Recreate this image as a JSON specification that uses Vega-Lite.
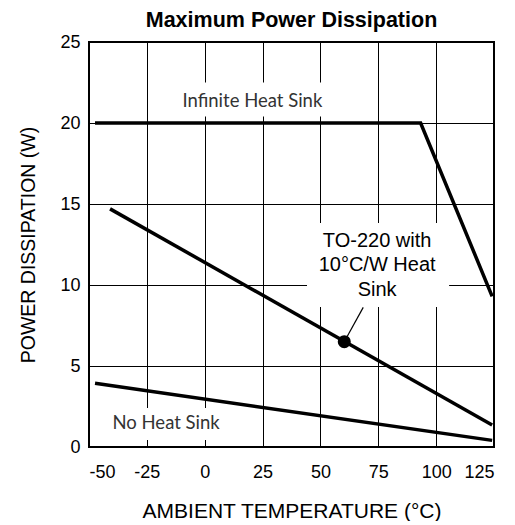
{
  "$schema": "https://vega.github.io/schema/vega-lite/v6.json",
  "autosize": {"type": "pad"},
  "width": 405,
  "height": 405,
  "padding": {"left": 18, "top": 9, "right": 0, "bottom": 0},
  "background": "white",
  "title": {
    "text": "Maximum Power Dissipation",
    "font": "Liberation Sans",
    "fontSize": 21.5,
    "fontWeight": "bold",
    "color": "black",
    "frame": "group",
    "baseline": "alphabetic",
    "offset": -15
  },
  "config": {
    "view": {"stroke": "black", "strokeWidth": 2},
    "axis": {
      "labelFont": "Liberation Sans",
      "labelFontSize": 18,
      "labelColor": "black",
      "titleFont": "Liberation Sans",
      "titleFontWeight": "normal",
      "titleColor": "black",
      "grid": true,
      "gridColor": "black",
      "gridOpacity": 1,
      "gridWidth": 1,
      "ticks": false,
      "domain": false,
      "labelExpr": "replace(datum.label, '−', '-')"
    }
  },
  "datasets": {
    "curves": [
      {"series": "Infinite Heat Sink", "temp": -47.4, "power": 20.0},
      {"series": "Infinite Heat Sink", "temp": 93.3, "power": 20.0},
      {"series": "Infinite Heat Sink", "temp": 124.2, "power": 9.3},
      {"series": "TO-220 10C/W", "temp": -40.9, "power": 14.7},
      {"series": "TO-220 10C/W", "temp": 124.2, "power": 1.36},
      {"series": "No Heat Sink", "temp": -47.4, "power": 3.93},
      {"series": "No Heat Sink", "temp": 124.2, "power": 0.41}
    ],
    "boxes": [
      {"x1": -12.8, "x2": 56.3, "y1": 20.4, "y2": 22.5},
      {"x1": 44.2, "x2": 105.6, "y1": 8.64, "y2": 13.83},
      {"x1": -43.1, "x2": 13.1, "y1": 0.43, "y2": 2.41}
    ],
    "leader": [
      {"x1": 60.3, "y1": 6.5, "x2": 68.5, "y2": 8.62}
    ],
    "dot": [
      {"temp": 60.3, "power": 6.5}
    ],
    "labels": [
      {"temp": 20.6, "power": 21.36, "label": "Infinite Heat Sink"},
      {"temp": -16.7, "power": 1.46, "label": "No Heat Sink"}
    ],
    "note": [
      {"temp": 74.5, "power": 12.73, "label": ["TO-220 with", "10°C/W Heat", "Sink"]}
    ]
  },
  "layer": [
    {
      "data": {"name": "boxes"},
      "mark": {"type": "rect", "fill": "white", "stroke": null},
      "encoding": {
        "x": {
          "field": "x1", "type": "quantitative",
          "scale": {"domain": [-50, 125], "nice": false, "zero": false},
          "axis": {"values": [-50, -25, 0, 25, 50, 75, 100, 125], "title": "AMBIENT TEMPERATURE (°C)", "titleFontSize": 21, "labelPadding": 16, "titlePadding": 19}
        },
        "x2": {"field": "x2"},
        "y": {
          "field": "y1", "type": "quantitative",
          "scale": {"domain": [0, 25], "nice": false, "zero": false},
          "axis": {"values": [0, 5, 10, 15, 20, 25], "title": "POWER DISSIPATION (W)", "titleFontSize": 19.5, "labelPadding": 9, "titlePadding": 21}
        },
        "y2": {"field": "y2"}
      }
    },
    {
      "data": {"name": "curves"},
      "mark": {"type": "line", "color": "black", "strokeWidth": 3.5, "strokeCap": "butt"},
      "encoding": {
        "x": {"field": "temp", "type": "quantitative"},
        "y": {"field": "power", "type": "quantitative"},
        "detail": {"field": "series"}
      }
    },
    {
      "data": {"name": "leader"},
      "mark": {"type": "rule", "color": "black", "strokeWidth": 1.2},
      "encoding": {
        "x": {"field": "x1", "type": "quantitative"},
        "y": {"field": "y1", "type": "quantitative"},
        "x2": {"field": "x2"},
        "y2": {"field": "y2"}
      }
    },
    {
      "data": {"name": "dot"},
      "mark": {"type": "point", "filled": true, "color": "black", "opacity": 1, "size": 170},
      "encoding": {
        "x": {"field": "temp", "type": "quantitative"},
        "y": {"field": "power", "type": "quantitative"}
      }
    },
    {
      "data": {"name": "labels"},
      "mark": {"type": "text", "font": "Lato", "fontSize": 18.5, "color": "#333333", "align": "center", "baseline": "middle"},
      "encoding": {
        "x": {"field": "temp", "type": "quantitative"},
        "y": {"field": "power", "type": "quantitative"},
        "text": {"field": "label"}
      }
    },
    {
      "data": {"name": "note"},
      "mark": {"type": "text", "font": "Liberation Sans", "fontSize": 20, "lineHeight": 24.5, "color": "black", "align": "center", "baseline": "middle"},
      "encoding": {
        "x": {"field": "temp", "type": "quantitative"},
        "y": {"field": "power", "type": "quantitative"},
        "text": {"field": "label"}
      }
    }
  ]
}
